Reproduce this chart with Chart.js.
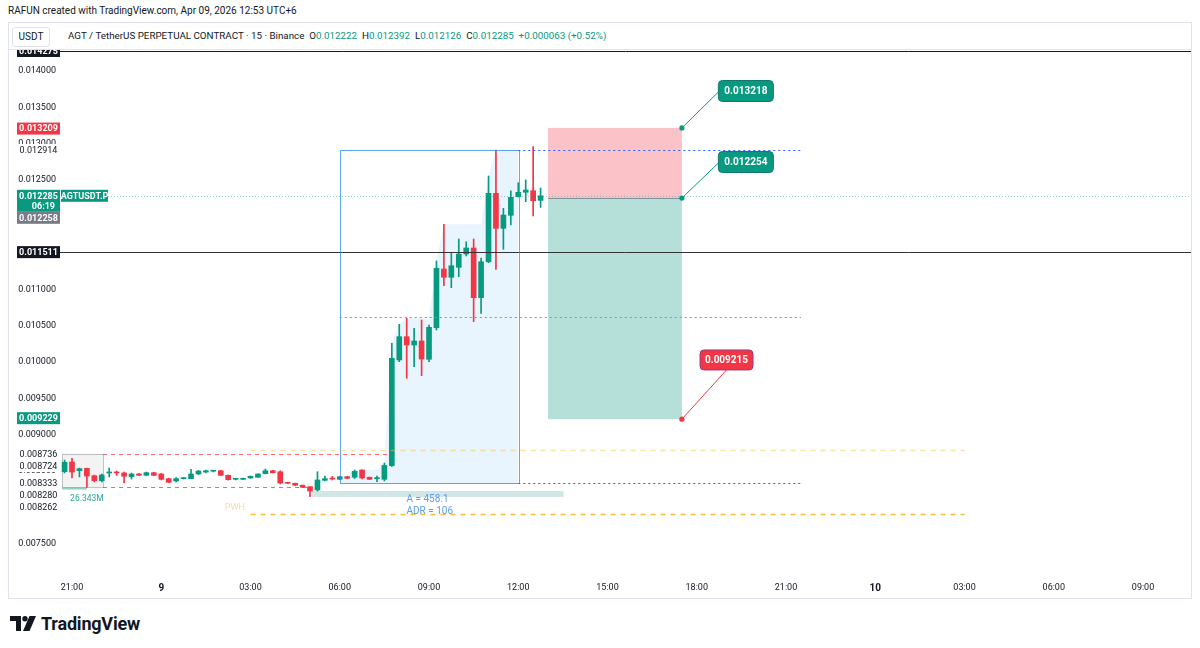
<!DOCTYPE html>
<html lang="en">
<head>
<meta charset="utf-8">
<title>AGTUSDT.P 15</title>
<script src="https://cdn.jsdelivr.net/npm/chart.js@4.4.1/dist/chart.umd.min.js"></script>
<style>
html, body { margin: 0; padding: 0; background: #fff; }
body { position: relative; width: 1200px; height: 648px; overflow: hidden; font-family: Roboto, "Noto Sans", sans-serif; color: #131722; }
#title { position: absolute; left: 8px; top: 5px; font-size: 10px; }
#frame { position: absolute; left: 8px; top: 22px; width: 1182px; height: 575px; border: 1px solid #e0e3eb; }
#head { position: absolute; left: 0; top: 0; width: 1182px; height: 26px; border-bottom: 1px solid #e0e3eb; }
#unit { position: absolute; left: 3px; top: 4px; width: 36px; height: 18px; line-height: 18px; border: 1px solid #e0e3eb; border-radius: 3px; font-size: 10px; text-align: center; }
#legend { position: absolute; left: 59px; top: 7px; font-size: 9.8px; white-space: nowrap; }
#legend b { font-weight: normal; color: #089981; }
#plot { position: absolute; left: 0; top: 27px; }
#logo { position: absolute; left: 10px; top: 613px; display: flex; align-items: center; font-size: 18px; font-weight: bold; letter-spacing: -0.2px; }
#logo svg { margin-right: 5px; }
</style>
</head>
<body>
<div id="title">RAFUN created with TradingView.com, Apr 09, 2026 12:53 UTC+6</div>
<div id="frame">
  <div id="head">
    <div id="unit">USDT</div>
    <div id="legend">AGT / TetherUS PERPETUAL CONTRACT · 15 · Binance&nbsp;&nbsp;O<b>0.012222</b>&nbsp;&nbsp;H<b>0.012392</b>&nbsp;&nbsp;L<b>0.012126</b>&nbsp;&nbsp;C<b>0.012285</b>&nbsp;&nbsp;<b>+0.000063 (+0.52%)</b></div>
  </div>
  <canvas id="plot" width="1182" height="548"></canvas>
</div>
<div id="logo"><svg width="26" height="15" viewBox="0 0 26 15"><path d="M0 0h11v15H6V5H0z" fill="#131722"/><circle cx="15" cy="2.7" r="2.7" fill="#131722"/><path d="M19.5 0H26l-6.5 15H13z" fill="#131722"/></svg>TradingView</div>

<script>
// 15 minute bars from Apr 8 20:45 to Apr 9 12:45 (UTC+6)
// x unit = one bar, 0 = Apr 8 21:00
const firstStep = -1;
const opens = [
  0.008494, 0.008627, 0.008507, 0.008540, 0.008438, 0.008370, 0.008476, 0.008484, 0.008476, 0.008425,
  0.008462, 0.008444, 0.008480, 0.008462, 0.008398, 0.008366, 0.008398, 0.008398, 0.008462, 0.008489,
  0.008500, 0.008507, 0.008444, 0.008389, 0.008389, 0.008407, 0.008417, 0.008466, 0.008507, 0.008493,
  0.008340, 0.008334, 0.008307, 0.008288, 0.008242, 0.008375, 0.008398, 0.008389, 0.008425, 0.008417,
  0.008517, 0.008417, 0.008398, 0.008389, 0.008576, 0.010029, 0.010349, 0.010235, 0.010290, 0.010038,
  0.010472, 0.011279, 0.011165, 0.011302, 0.011485, 0.011568, 0.010885, 0.011379, 0.012319, 0.011838,
  0.012017, 0.012273, 0.012333, 0.012355, 0.012222
];
const highs = [
  0.008654, 0.008677, 0.008544, 0.008544, 0.008448, 0.008462, 0.008544, 0.008503, 0.008489, 0.008476,
  0.008470, 0.008489, 0.008486, 0.008470, 0.008405, 0.008414, 0.008414, 0.008526, 0.008510, 0.008517,
  0.008514, 0.008512, 0.008448, 0.008400, 0.008405, 0.008435, 0.008466, 0.008530, 0.008512, 0.008507,
  0.008345, 0.008338, 0.008311, 0.008290, 0.008494, 0.008434, 0.008428, 0.008430, 0.008430, 0.008517,
  0.008520, 0.008420, 0.008434, 0.008613, 0.010258, 0.010519, 0.010602, 0.010464, 0.010578, 0.010510,
  0.011389, 0.011893, 0.011509, 0.011691, 0.011654, 0.011691, 0.011430, 0.012557, 0.012914, 0.012113,
  0.012355, 0.012465, 0.012503, 0.012960, 0.012392
];
const lows = [
  0.008476, 0.008407, 0.008421, 0.008276, 0.008352, 0.008352, 0.008421, 0.008441, 0.008338, 0.008393,
  0.008438, 0.008438, 0.008438, 0.008380, 0.008340, 0.008352, 0.008393, 0.008398, 0.008455, 0.008476,
  0.008490, 0.008440, 0.008378, 0.008380, 0.008384, 0.008403, 0.008414, 0.008462, 0.008476, 0.008325,
  0.008328, 0.008300, 0.008274, 0.008150, 0.008228, 0.008366, 0.008380, 0.008385, 0.008398, 0.008400,
  0.008393, 0.008385, 0.008357, 0.008366, 0.008565, 0.010005, 0.009777, 0.009937, 0.009813, 0.010005,
  0.010441, 0.011050, 0.011022, 0.011173, 0.011458, 0.010555, 0.010670, 0.011366, 0.011275, 0.011550,
  0.011884, 0.012268, 0.012204, 0.012007, 0.012126
];
const closes = [
  0.008623, 0.008489, 0.008535, 0.008434, 0.008370, 0.008448, 0.008486, 0.008476, 0.008431, 0.008462,
  0.008444, 0.008480, 0.008444, 0.008389, 0.008348, 0.008398, 0.008407, 0.008462, 0.008503, 0.008507,
  0.008505, 0.008444, 0.008384, 0.008393, 0.008398, 0.008431, 0.008462, 0.008507, 0.008480, 0.008338,
  0.008333, 0.008307, 0.008280, 0.008228, 0.008380, 0.008398, 0.008393, 0.008425, 0.008402, 0.008499,
  0.008407, 0.008389, 0.008403, 0.008579, 0.010052, 0.010349, 0.010235, 0.010290, 0.010042, 0.010478,
  0.011289, 0.011165, 0.011324, 0.011485, 0.011568, 0.010885, 0.011379, 0.012319, 0.011838, 0.012021,
  0.012264, 0.012333, 0.012365, 0.012218, 0.012285
];

const tickSteps  = [0, 12, 24, 36, 48, 60, 72, 84, 96, 108, 120, 132, 144];
const tickLabels = ['21:00', '9', '03:00', '06:00', '09:00', '12:00', '15:00', '18:00', '21:00', '10', '03:00', '06:00', '09:00'];
const dayLabels  = ['9', '10'];
const priceTicks = [0.0075, 0.008, 0.0085, 0.009, 0.0095, 0.010, 0.0105, 0.011, 0.0115, 0.012, 0.0125, 0.013, 0.0135, 0.014];

// price scale labels
const axisPrices = [0.014275, 0.013209, 0.012914, 0.012285, 0.012258, 0.011511, 0.009229, 0.008736, 0.008724, 0.008333, 0.008280, 0.008262];
const axisKinds  = ['line', 'stop', 'plain', 'last', 'prev', 'line', 'alert', 'plain', 'plain', 'plain', 'plain', 'plain'];

// drawings (bar steps / prices)
const rangeFrom = 36, rangeTo = 60, rangeLow = 0.008333, rangeHigh = 0.012914;
const posFrom = 64, posTo = 82, entry = 0.012254, target = 0.013218, stop = 0.009215;
const midLevel = 0.010625;
const pwhHigh = 0.008792, pwhLow = 0.007908;
const boxFrom = -1.35, boxTo = 4.17, boxHigh = 0.008736, boxLow = 0.008280;
const volFrom = 32.3, volTo = 66.1, volHigh = 0.008228, volLow = 0.008146;

const X_MIN = -1.615, X_MAX = 150.45, Y_MIN = 0.007074, Y_MAX = 0.0142886;
const GREEN = '#089981', RED = '#f23645', INK = '#131722';
const FONT = 'Roboto, "Noto Sans", sans-serif';

const steps = opens.map((o, i) => firstStep + i);

// light blue fill of the range box follows the running high
const rangeFill = [];
let runHigh = 0;
steps.forEach((s, i) => {
  if (s < rangeFrom || s > rangeTo) return;
  runHigh = Math.max(runHigh, highs[i]);
  rangeFill.push({x: s, y: runHigh});
});

const candleColor = ctx => {
  const i = ctx.dataIndex;
  return closes[i] >= opens[i] ? GREEN : RED;
};

function hline(ctx, y, x0, x1, color, dash, w) {
  ctx.beginPath();
  ctx.setLineDash(dash || []);
  ctx.strokeStyle = color;
  ctx.lineWidth = w || 1;
  const yy = Math.round(y) + 0.5;
  ctx.moveTo(x0, yy);
  ctx.lineTo(x1, yy);
  ctx.stroke();
  ctx.setLineDash([]);
}

function tag(ctx, cx, cy, w, h, bg, border, text) {
  ctx.beginPath();
  ctx.roundRect(cx - w / 2, cy - h / 2, w, h, 4);
  ctx.fillStyle = bg;
  ctx.fill();
  ctx.strokeStyle = border;
  ctx.lineWidth = 1;
  ctx.stroke();
  ctx.fillStyle = '#fff';
  ctx.font = 'bold 10px ' + FONT;
  ctx.textAlign = 'center';
  ctx.textBaseline = 'middle';
  ctx.fillText(text, cx, cy + 0.5);
}

const drawings = {
  id: 'drawings',
  beforeDatasetsDraw(chart) {
    const {ctx, chartArea: a} = chart;
    const X = v => chart.scales.x.getPixelForValue(v), Y = v => chart.scales.y.getPixelForValue(v);
    ctx.save();
    ctx.beginPath(); ctx.rect(a.left, a.top, a.right - a.left, a.bottom - a.top); ctx.clip();

    // grey box on the left
    ctx.fillStyle = 'rgba(120,123,134,0.09)';
    ctx.fillRect(X(boxFrom), Y(boxHigh), X(boxTo) - X(boxFrom), Y(boxLow) - Y(boxHigh));
    ctx.strokeStyle = 'rgba(120,123,134,0.45)';
    ctx.lineWidth = 1;
    ctx.strokeRect(Math.round(X(boxFrom)) + 0.5, Math.round(Y(boxHigh)) + 0.5, Math.round(X(boxTo) - X(boxFrom)), Math.round(Y(boxLow) - Y(boxHigh)));

    // teal band under the range
    ctx.fillStyle = 'rgba(91,170,160,0.28)';
    ctx.fillRect(X(volFrom), Y(volHigh), X(volTo) - X(volFrom), Y(volLow) - Y(volHigh));

    // long position
    ctx.fillStyle = 'rgba(242,54,69,0.3)';
    ctx.fillRect(X(posFrom), Y(target), X(posTo) - X(posFrom), Y(entry) - Y(target));
    ctx.fillStyle = 'rgba(8,153,129,0.3)';
    ctx.fillRect(X(posFrom), Y(entry), X(posTo) - X(posFrom), Y(stop) - Y(entry));
    hline(ctx, Y(entry), X(posFrom), X(posTo), 'rgba(120,123,134,0.8)', [], 1);
    ctx.restore();
  },
  afterDatasetsDraw(chart) {
    const {ctx, chartArea: a} = chart;
    const X = v => chart.scales.x.getPixelForValue(v), Y = v => chart.scales.y.getPixelForValue(v);
    ctx.save();
    ctx.beginPath(); ctx.rect(a.left, a.top, a.right - a.left, a.bottom - a.top); ctx.clip();

    // full width levels
    hline(ctx, Y(axisPrices[0]), a.left, a.right, INK, [], 1);
    hline(ctx, Y(axisPrices[5]), a.left, a.right, '#333', [], 1);
    // last price
    hline(ctx, Y(closes[closes.length - 1]), a.left + 48, a.right, 'rgba(8,153,129,0.45)', [1, 2], 1);

    // range box outline
    ctx.strokeStyle = 'rgba(41,140,230,0.75)';
    ctx.lineWidth = 1;
    ctx.strokeRect(Math.round(X(rangeFrom)) + 0.5, Math.round(Y(rangeHigh)) + 0.5, Math.round(X(rangeTo) - X(rangeFrom)), Math.round(Y(rangeLow) - Y(rangeHigh)));
    hline(ctx, Y(rangeHigh), X(rangeTo), X(98), '#2962ff', [2, 3], 1);
    hline(ctx, Y(rangeLow), X(rangeTo), X(98), '#2962ff', [2, 3], 1);
    hline(ctx, Y(midLevel), X(rangeFrom), X(98), '#f57c00', [2, 3], 1.2);

    // box levels
    hline(ctx, Y(boxHigh), X(boxTo), X(43), 'rgba(242,54,69,0.75)', [4, 4], 1);
    hline(ctx, Y(boxLow), X(boxTo), X(volFrom), 'rgba(8,153,129,0.75)', [4, 4], 1);
    hline(ctx, Y(boxLow) + 1, X(boxFrom), X(2), 'rgba(8,153,129,0.45)', [], 2);

    // previous week high lines
    hline(ctx, Y(pwhHigh), X(24), X(120), 'rgba(251,192,45,0.45)', [5, 5], 1.5);
    hline(ctx, Y(pwhLow), X(24), X(120), 'rgba(245,180,20,0.85)', [5, 5], 1.5);

    ctx.font = '9px ' + FONT;
    ctx.textAlign = 'center';
    ctx.textBaseline = 'middle';
    ctx.fillStyle = 'rgba(245,170,60,0.45)';
    ctx.fillText('PWH', X(21.9), Y(0.007995));
    ctx.fillStyle = '#26a69a';
    ctx.font = '8.5px ' + FONT;
    ctx.fillText('26.343M', X(2), Y(0.008118));
    ctx.fillStyle = '#5b9cf6';
    ctx.font = '10px ' + FONT;
    ctx.fillText('A = 458.1', X(47.8), Y(0.008118));
    ctx.fillText('ADR = 106', X(48.1), Y(0.007944));

    // position tool labels
    const tags = [
      {cx: X(90.6), cy: Y(0.013725), w: 55, h: 21, price: target, color: GREEN, border: '#11786a', side: 'left'},
      {cx: X(90.6), cy: Y(0.012749), w: 55, h: 21, price: entry, color: GREEN, border: '#11786a', side: 'left'},
      {cx: X(88.0), cy: Y(0.010029), w: 53, h: 20, price: stop, color: RED, border: '#9c3a7a', side: 'bottom'}
    ];
    tags.forEach(t => {
      const px = X(posTo), py = Y(t.price);
      const ex = t.side === 'left' ? t.cx - t.w / 2 : t.cx;
      const ey = t.side === 'left' ? t.cy + 1 : t.cy + t.h / 2;
      ctx.beginPath();
      ctx.strokeStyle = t.color;
      ctx.lineWidth = 1;
      ctx.moveTo(px, py); ctx.lineTo(ex, ey); ctx.stroke();
      ctx.beginPath();
      ctx.arc(px, py, 2.6, 0, Math.PI * 2);
      ctx.fillStyle = t.color;
      ctx.fill();
      tag(ctx, t.cx, t.cy, t.w, t.h, t.color, t.border, t.price.toFixed(6));
    });
    ctx.restore();
  },
  afterDraw(chart) {
    const {ctx, chartArea: a} = chart;
    const Y = v => chart.scales.y.getPixelForValue(v);
    ctx.save();
    ctx.beginPath(); ctx.rect(0, a.top, chart.width, a.bottom - a.top); ctx.clip();
    const bgs = {line: INK, stop: RED, last: GREEN, prev: '#787b86', alert: GREEN, plain: '#fff'};
    const items = axisPrices.map((p, i) => ({p, kind: axisKinds[i], y: Y(p)})).sort((m, n) => m.y - n.y);
    let prevBottom = -Infinity;
    ctx.textBaseline = 'middle';
    items.forEach(it => {
      const h = it.kind === 'last' ? 22 : 12;
      let top = it.y - 6;
      if (top < prevBottom) top = prevBottom;
      prevBottom = top + h;
      ctx.fillStyle = bgs[it.kind];
      ctx.fillRect(8, top, 43, h);
      ctx.fillStyle = it.kind === 'plain' ? INK : '#fff';
      ctx.font = (it.kind === 'plain' ? '' : 'bold ') + '9px ' + FONT;
      ctx.textAlign = 'center';
      ctx.fillText(it.p.toFixed(6), 29.5, top + 6.5);
      if (it.kind === 'last') {
        ctx.textAlign = 'right';
        ctx.fillText('06:19', 46, top + 16.5);
        // symbol tag on the chart
        ctx.fillStyle = GREEN;
        ctx.fillRect(a.left + 1, top, 47, 12);
        ctx.fillStyle = '#fff';
        ctx.textAlign = 'center';
        ctx.fillText('AGTUSDT.P', a.left + 24.5, top + 6.5);
      }
    });
    ctx.restore();
  }
};

Chart.defaults.font.family = FONT;

new Chart(document.getElementById('plot'), {
  type: 'bar',
  data: {
    datasets: [
      {
        label: 'body',
        data: steps.map((s, i) => ({x: s, y: [opens[i], closes[i]]})),
        backgroundColor: candleColor,
        barThickness: 5,
        minBarLength: 1,
        grouped: false
      },
      {
        label: 'wick',
        data: steps.map((s, i) => ({x: s, y: [lows[i], highs[i]]})),
        backgroundColor: candleColor,
        barThickness: 1,
        grouped: false
      },
      {
        type: 'line',
        label: 'range',
        data: rangeFill,
        borderWidth: 0,
        pointRadius: 0,
        backgroundColor: 'rgba(33,150,243,0.1)',
        fill: {value: rangeLow}
      }
    ]
  },
  options: {
    responsive: false,
    animation: false,
    layout: {padding: 0},
    plugins: {legend: {display: false}, tooltip: {enabled: false}},
    scales: {
      x: {
        type: 'linear',
        offset: false,
        min: X_MIN,
        max: X_MAX,
        grid: {display: false, drawTicks: false},
        border: {display: false},
        afterBuildTicks: s => { s.ticks = tickSteps.map(v => ({value: v})); },
        afterFit: s => { s.height = 23; s.paddingLeft = 0; s.paddingRight = 0; },
        ticks: {
          autoSkip: false,
          maxRotation: 0,
          padding: 7,
          color: INK,
          font: c => dayLabels.includes(tickLabels[tickSteps.indexOf(c.tick && c.tick.value)]) ? {size: 10, weight: 'bold'} : {size: 9},
          callback: v => tickLabels[tickSteps.indexOf(v)]
        }
      },
      y: {
        position: 'left',
        min: Y_MIN,
        max: Y_MAX,
        grid: {display: false, drawTicks: false},
        border: {display: false},
        afterBuildTicks: s => { s.ticks = priceTicks.map(v => ({value: v})); },
        afterFit: s => { s.width = 51; s.paddingTop = 0; s.paddingBottom = 0; },
        ticks: {
          padding: 4,
          color: INK,
          font: {size: 9},
          callback: v => v.toFixed(6)
        }
      }
    }
  },
  plugins: [drawings]
});
</script>
</body>
</html>
